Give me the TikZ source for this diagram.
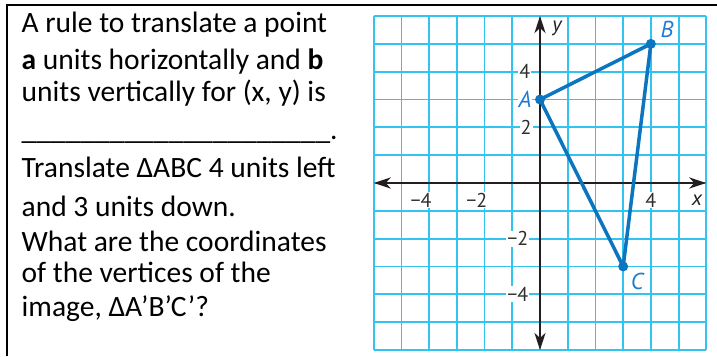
\documentclass[tikz,border=0pt]{standalone}
\usepackage{fontspec}
\setmainfont{Carlito}
\newfontfamily\graphfont{PT Sans}
\usetikzlibrary{arrows.meta}
\definecolor{gridc}{HTML}{33C3F0}
\definecolor{tri}{HTML}{0B75C0}
\definecolor{lab}{HTML}{1E7AD2}
\definecolor{axc}{HTML}{231F20}
\definecolor{numc}{HTML}{2E2E2E}
\begin{document}
\begin{tikzpicture}[x=1pt,y=1pt,
  txt/.style={anchor=base west, font=\fontsize{29.5}{34}\selectfont, inner sep=0pt},
  numlab/.style={font=\graphfont\fontsize{20}{20}\selectfont, text=numc, fill=white, inner sep=1pt},
  ptlab/.style={font=\graphfont\itshape\fontsize{23}{23}\selectfont, text=lab, fill=white, inner sep=1pt},
  axlab/.style={font=\graphfont\itshape\fontsize{21}{21}\selectfont, text=axc, fill=white, inner sep=1pt},
  gridline/.style={draw=gridc, line width=1.8pt},
  axisline/.style={draw=axc, line width=2.4pt, {Stealth[length=17pt,width=11pt,inset=5pt]}-{Stealth[length=17pt,width=11pt,inset=5pt]}},
  vertex/.style={circle, fill=tri, inner sep=0pt, minimum size=10pt}
]
\useasboundingbox (0,0) rectangle (717,356);
\draw[line width=2pt] (7,0) -- (7,351) -- (717,351);
\node[txt] (l1) at (21.5,323) {A rule to translate a point};
\node[txt] (l2) at (21.5,286) {\textbf{a} units horizontally and \textbf{b}};
\node[txt] (l3) at (21.5,254) {units vertically for (x, y) is};
\node[txt] (l4) at (21.5,216) {\_\_\_\_\_\_\_\_\_\_\_\_\_\_\_\_\_\_\_\_\_.};
\node[txt] (l5) at (21.5,178) {Translate ΔABC 4 units left};
\node[txt] (l6) at (21.5,139) {and 3 units down.};
\node[txt] (l7) at (21.5,104) {What are the coordinates};
\node[txt] (l8) at (21.5,73) {of the vertices of the};
\node[txt] (l9) at (21.5,39) {image, ΔA’B’C’?};
\begin{scope}[shift={(540,173)}, x=27.72pt, y=27.83pt]
  \foreach \k in {-6,...,6} {
    \draw[gridline] (\k,-6) -- (\k,6);
    \draw[gridline] (-6,\k) -- (6,\k);
  }
  \draw[axisline] (-6,0) -- (6,0);
  \draw[axisline] (0,-6) -- (0,6);
  \node[numlab] (t4) at (-0.55,4) {4};
  \node[numlab] (t2) at (-0.5,2) {2};
  \node[numlab] (tm2) at (-0.8,-2) {−2};
  \node[numlab] (tm4) at (-0.8,-4) {−4};
  \node[numlab] (xm4) at (-4.29,-0.61) {−4};
  \node[numlab] (xm2) at (-2.28,-0.61) {−2};
  \node[numlab] (x4) at (4,-0.61) {4};
  \node[axlab] (xl) at (5.66,-0.61) {x};
  \node[axlab] (yl) at (0.61,5.57) {y};
  \coordinate (A) at (0,3);
  \coordinate (B) at (4,5);
  \coordinate (C) at (3,-3);
  \draw[tri, line width=3.5pt, line join=round] (A) -- (B) -- (C) -- cycle;
  \node[vertex] (pA) at (A) {};
  \node[vertex] (pB) at (B) {};
  \node[vertex] (pC) at (C) {};
  \node[ptlab] (lA) at (-0.54,3) {A};
  \node[ptlab] (lB) at (4.58,5.5) {B};
  \node[ptlab] (lC) at (3.5,-3.52) {C};
\end{scope}
\end{tikzpicture}
\end{document}
